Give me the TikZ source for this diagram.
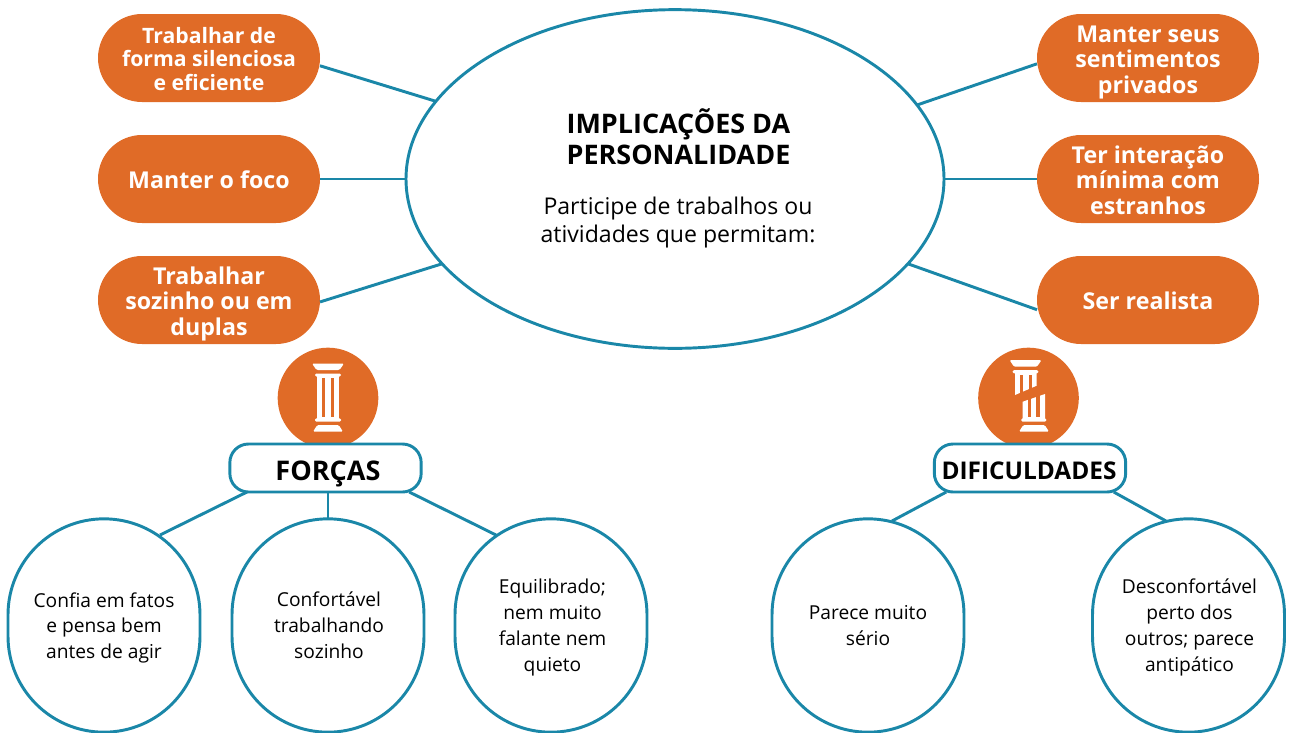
\documentclass[tikz,border=0pt]{standalone}
\usepackage{fontspec}
\setmainfont{Open Sans}
\usetikzlibrary{shapes.geometric}
\definecolor{orangefill}{HTML}{E06B27}
\definecolor{tealline}{HTML}{1A87A8}
\newcommand{\textprop}{\rule[-0.3em]{0pt}{1.4em}}
\tikzset{
    evenlines/.style={execute at begin node=\textprop,execute at end node=\textprop},
    pill/.style={rectangle,rounded corners=33pt,fill=orangefill,
        minimum width=166.5pt,minimum height=66pt,inner sep=0pt,outer sep=0pt},
    pilltext/.style={text=white,align=center,inner sep=0pt,evenlines,
        font=\fontsize{17.4}{19.1}\selectfont\bfseries},
    bubble/.style={rectangle,rounded corners=72pt,draw=tealline,line width=2.2pt,fill=white,
        minimum width=144pt,minimum height=160pt,inner sep=0pt,outer sep=0pt},
    bubbletext/.style={align=center,inner sep=0pt,evenlines,
        font=\fontsize{14.4}{19.3}\selectfont},
    headbox/.style={rectangle,rounded corners=14pt,draw=tealline,line width=2.2pt,fill=white,
        minimum width=143.5pt,minimum height=36pt,inner sep=0pt,outer sep=0pt},
    badge/.style={circle,fill=orangefill,minimum size=75.5pt,inner sep=0pt,outer sep=0pt},
    link/.style={draw=tealline,line width=2.2pt},
    pillarpart/.style={fill=white},
    groove/.style={fill=orangefill}
}
\begin{document}
\begin{tikzpicture}[x=0.75pt,y=-0.75pt]
    \useasboundingbox (0,0) rectangle (1291,732);
    %% central ellipse
    \node[ellipse,draw=tealline,line width=2.2pt,minimum width=403.5pt,minimum height=254pt,
        inner sep=0pt,outer sep=0pt] (main) at (675,179) {};
    \node[font=\fontsize{20.2}{23}\selectfont\bfseries,align=left,inner sep=0pt] (title) at (678.5,137) {IMPLICAÇÕES DA\\PERSONALIDADE};
    \node[font=\fontsize{17.3}{21}\selectfont,align=center,inner sep=0pt] (subtitle) at (678,223) {Participe de trabalhos ou\\atividades que permitam:};
    %% left pills
    \node[pill] (forma) at (209,58) {};
    \node[pill] (foco) at (209,179) {};
    \node[pill] (sozinho) at (209,300) {};
    \node[pilltext,font=\fontsize{15.9}{17.6}\selectfont\bfseries] (formatext) at (209,62) {Trabalhar de\\forma silenciosa\\e eficiente};
    \node[pilltext] (focotext) at (209,179) {Manter o foco};
    \node[pilltext] (sozinhotext) at (209,304.5) {Trabalhar\\sozinho ou em\\duplas};
    %% right pills
    \node[pill] (privados) at (1148,58) {};
    \node[pill] (minima) at (1148,179) {};
    \node[pill] (realista) at (1148,300) {};
    \node[pilltext] (privadostext) at (1148,63) {Manter seus\\sentimentos\\privados};
    \node[pilltext] (minimatext) at (1148,183.5) {Ter interação\\mínima com\\estranhos};
    \node[pilltext] (realistatext) at (1148,300) {Ser realista};
    \draw[link] (forma.-4) -- (main.162.7);
    \draw[link] (foco.east) -- (main.west);
    \draw[link] (sozinho.-1) -- (main.200.3);
    \draw[link] (privados.183) -- (main.17.2);
    \draw[link] (minima.west) -- (main.east);
    \draw[link] (realista.185) -- (main.-20.4);
    %% badges and headings
    \node[badge] (badgeA) at (328,398) {};
    \node[badge] (badgeB) at (1028.5,398) {};
    \node[headbox] (forcas) at (325.5,468) {};
    \node[headbox] (dificuldades) at (1030,468) {};
    \node[inner sep=0pt,evenlines,font=\fontsize{20.3}{22}\selectfont\bfseries] (forcastext) at (328,470) {FORÇAS};
    \node[inner sep=0pt,evenlines,font=\fontsize{18.3}{20}\selectfont\bfseries] (dificuldadestext) at (1029,470) {DIFICULDADES};
    %% whole pillar
    \fill[pillarpart,rounded corners=1pt] (312,363.5) -- (344,363.5) -- (339.5,370) -- (316.5,370) -- cycle;
    \fill[pillarpart,rounded corners=1pt] (315,373.5) rectangle (341,376.5);
    \fill[pillarpart] (316.7,376) rectangle (339.3,419);
    \foreach \x in {321.7,330.7}
        \fill[groove] (\x,377.7) rectangle ++(3.4,39.6);
    \fill[pillarpart,rounded corners=1pt] (315,418.3) rectangle (341,421.7);
    \fill[pillarpart,rounded corners=1pt] (317.3,425) -- (338.7,425) -- (343,431.7) -- (313,431.7) -- cycle;
    %% broken pillar
    \fill[pillarpart,rounded corners=1pt] (1009.5,360) -- (1041.5,360) -- (1037,366.7) -- (1014,366.7) -- cycle;
    \fill[pillarpart,rounded corners=1pt] (1012.7,370) rectangle (1038.3,373.3);
    \fill[pillarpart] (1015,373) -- (1036.7,373) -- (1036.7,385.7) -- (1015,395) -- cycle;
    \foreach \x in {1020,1028.5}
        \fill[groove] (\x,375) rectangle ++(3.4,24);
    \fill[pillarpart] (1022.7,401.7) -- (1045,394) -- (1045,419) -- (1022.7,419) -- cycle;
    \foreach \x in {1027.7,1036.2}
        \fill[groove] (\x,392) rectangle ++(3.4,24.7);
    \fill[pillarpart,rounded corners=1pt] (1021.3,418.3) rectangle (1046.3,421.7);
    \fill[pillarpart,rounded corners=1pt] (1023.3,425) -- (1044.7,425) -- (1049,431.7) -- (1019,431.7) -- cycle;
    %% bubbles
    \node[bubble] (fatos) at (104,625.5) {};
    \node[bubble] (confortavel) at (328,625.5) {};
    \node[bubble] (equilibrado) at (551,625.5) {};
    \node[bubble] (serio) at (868,625.5) {};
    \node[bubble] (desconforto) at (1188.5,625.5) {};
    \node[bubbletext] (fatostext) at (104,628.5) {Confia em fatos\\e pensa bem\\antes de agir};
    \node[bubbletext] (confortaveltext) at (329,628) {Confortável\\trabalhando\\sozinho};
    \node[bubbletext] (equilibradotext) at (552.5,628) {Equilibrado;\\nem muito\\falante nem\\quieto};
    \node[bubbletext] (seriotext) at (868,628) {Parece muito\\sério};
    \node[bubbletext] (desconfortotext) at (1189.5,628) {Desconfortável\\perto dos\\outros; parece\\antipático};
    \coordinate (fatosend) at (160,535);
    \coordinate (equilibradoend) at (496,535);
    \coordinate (serioend) at (892,521);
    \coordinate (desconfortoend) at (1166,521);
    \draw[link] (forcas.197) -- (fatosend);
    \draw[link] (confortavel.north) -- (confortavel.north |- forcas.south);
    \draw[link] (forcas.-16.2) -- (equilibradoend);
    \draw[link] (dificuldades.196.3) -- (serioend);
    \draw[link] (dificuldades.-16.7) -- (desconfortoend);
\end{tikzpicture}
\end{document}
